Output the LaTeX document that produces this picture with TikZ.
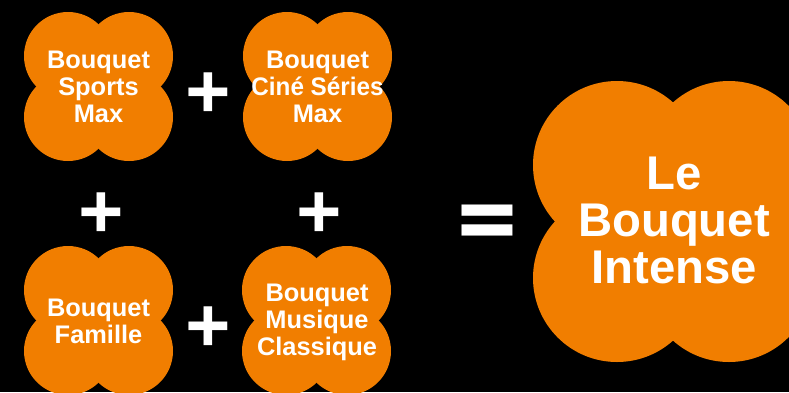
\documentclass[tikz,border=0pt]{standalone}
\usepackage{graphicx}
\usepackage{fontspec}
\setmainfont{Liberation Sans}[BoldFont={Liberation Sans Bold}]
\newfontfamily\signfont{Open Sans}[BoldFont={Open Sans Bold}]
\definecolor{bouquet}{HTML}{F17E00}
\tikzset{
  x=1pt,y=-1pt,
  lobe/.style={fill=bouquet,draw=none},
  smalltext/.style={text=white,align=center,inner sep=0pt,font=\fontsize{25.4}{27}\selectfont\bfseries},
  bigtext/.style={text=white,align=center,inner sep=0pt,font=\fontsize{47.3}{47}\selectfont\bfseries},
  plussign/.style={text=white,inner sep=0pt,font=\fontsize{80}{80}\selectfont\signfont\bfseries},
  equalsign/.style={text=white,inner sep=0pt,font=\fontsize{105}{105}\selectfont\signfont\bfseries}
}
\begin{document}
\begin{tikzpicture}
\path[use as bounding box] (0,0) rectangle (789,392);
\clip (0,0) rectangle (789,392);
\fill[black] (0,0) rectangle (789,392);
\foreach \cx/\cy in {24/12,243/12,24/246,242/246}{
  \foreach \dx/\dy in {44/44,105/44,44/105,105/105}{
    \fill[lobe] (\cx+\dx,\cy+\dy) circle[radius=44];
  }
}
\foreach \cx/\cy in {617/165,617/278,729/165,729/278}{
  \fill[lobe] (\cx,\cy) circle[radius=84];
}
\node[smalltext] (sports) at (98.5,86.5) {Bouquet\\Sports\\Max};
\node[smalltext] (cine) at (317.5,86.5) {Bouquet\\\scalebox{0.955}[1]{Ciné Séries}\\Max};
\node[smalltext] (famille) at (98.5,321) {Bouquet\\Famille};
\node[smalltext] (musique) at (317,322.5) {Bouquet\\Musique\\Classique};
\node[bigtext] (intense) at (674,220.5) {Le\\Bouquet\\Intense};
\node[plussign] (p1) at (208,97) {+};
\node[plussign] (p2) at (208,331) {+};
\node[plussign] (p3) at (101,217) {+};
\node[plussign] (p4) at (319,217) {+};
\node[equalsign] (eq) at (487,231) {=};
\end{tikzpicture}
\end{document}
